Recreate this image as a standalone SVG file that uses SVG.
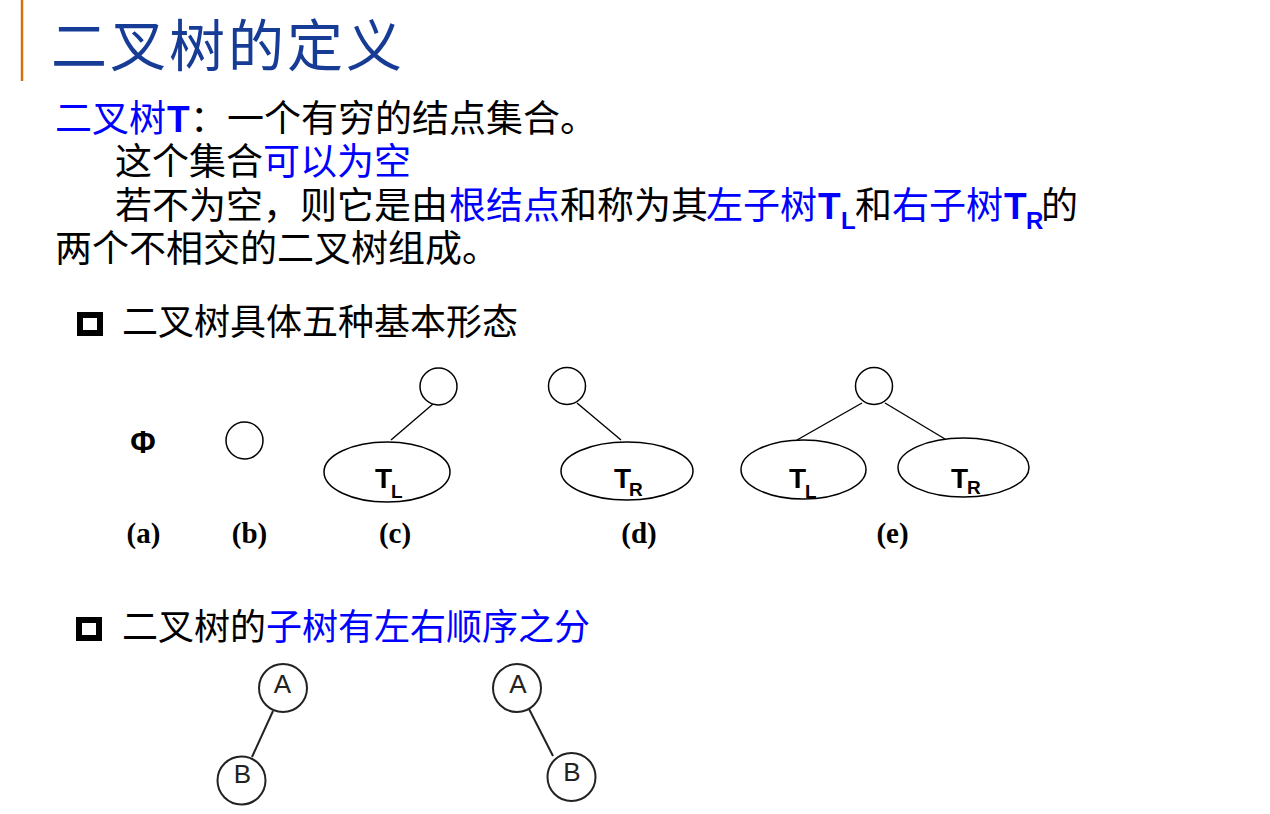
<svg xmlns="http://www.w3.org/2000/svg" width="1270" height="814" viewBox="0 0 1270 814">
<style>
.cjk{font-family:"Liberation Sans","Noto Sans CJK SC",sans-serif;}
.body{font-size:37px;fill:#000;}
.blue{fill:#0000ff;}
.bT{font-weight:bold;}
.title{font-family:"Noto Sans CJK SC",sans-serif;font-size:56px;fill:#173c96;letter-spacing:3px;}
.lbl{font-family:"Liberation Serif",serif;font-weight:bold;font-size:29px;fill:#000;text-anchor:middle;}
.tn{font-family:"Liberation Sans",sans-serif;font-weight:bold;fill:#000;}
.node{fill:#fff;stroke:#000;stroke-width:1.5;}
.edge{stroke:#000;stroke-width:1.4;fill:none;}
.gnode{fill:#fff;stroke:#222;stroke-width:2;}
.gedge{stroke:#222;stroke-width:2;fill:none;}
.glbl{font-family:"Liberation Sans",sans-serif;font-size:26px;fill:#222;text-anchor:middle;}
.bullet{fill:none;stroke:#000;stroke-width:6;}
</style>

<rect x="0" y="0" width="1270" height="814" fill="#fff"/>
<line x1="22" y1="0" x2="22" y2="81" stroke="#d4700f" stroke-width="2.5"/>
<text class="title" x="51" y="66">二叉树的定义</text>

<g id="definition" class="cjk body">
  <text y="132"><tspan x="55" class="blue">二叉树</tspan><tspan x="167" class="blue bT">T</tspan><tspan x="190">：一个有穷的结点集合。</tspan></text>
  <text y="175"><tspan x="115">这个集合</tspan><tspan x="263" class="blue">可以为空</tspan></text>
  <text y="219"><tspan x="115">若不为空，则它是由</tspan><tspan x="449" class="blue">根结点</tspan><tspan x="560">和称为其</tspan><tspan x="706" class="blue">左子树</tspan><tspan x="818" class="blue bT">T</tspan><tspan x="841" y="229" class="blue bT" font-size="24">L</tspan><tspan x="855" y="219">和</tspan><tspan x="892" class="blue">右子树</tspan><tspan x="1004" class="blue bT">T</tspan><tspan x="1026" y="229" class="blue bT" font-size="24">R</tspan><tspan x="1041" y="219">的</tspan></text>
  <text y="262"><tspan x="55">两个不相交的二叉树组成。</tspan></text>
</g>

<g id="bullet1">
  <rect class="bullet" x="80" y="315" width="20" height="18"/>
  <text class="cjk" font-size="36" x="122" y="335">二叉树具体五种基本形态</text>
</g>

<g id="connectors">
  <line class="edge" x1="432.7" y1="404.3" x2="391" y2="440"/>
  <line class="edge" x1="577" y1="403" x2="621" y2="440"/>
  <line class="edge" x1="862" y1="403" x2="797" y2="440"/>
  <line class="edge" x1="885" y1="403" x2="945" y2="439"/>
  <line class="gedge" x1="273" y1="711" x2="252" y2="757"/>
  <line class="gedge" x1="529" y1="709" x2="553" y2="756"/>
</g>

<g id="form-a">
  <text class="tn" font-size="31" x="143" y="453" text-anchor="middle">Φ</text>
  <text class="lbl" x="143.5" y="543">(a)</text>
</g>
<g id="form-b">
  <circle class="node" cx="244.5" cy="440.5" r="18.5"/>
  <text class="lbl" x="249.5" y="543">(b)</text>
</g>
<g id="form-c">
  <circle class="node" cx="438.5" cy="386.5" r="18.5"/>
  <ellipse class="node" cx="387" cy="472" rx="63" ry="30"/>
  <text class="tn" x="375" y="488"><tspan font-size="28">T</tspan><tspan x="391" y="498" font-size="19">L</tspan></text>
  <text class="lbl" x="395" y="543">(c)</text>
</g>
<g id="form-d">
  <circle class="node" cx="567" cy="386" r="18.5"/>
  <ellipse class="node" cx="627" cy="471" rx="66" ry="29"/>
  <text class="tn" x="614" y="488"><tspan font-size="28">T</tspan><tspan x="629" y="496" font-size="19">R</tspan></text>
  <text class="lbl" x="639" y="543">(d)</text>
</g>
<g id="form-e">
  <circle class="node" cx="874" cy="386" r="18.5"/>
  <ellipse class="node" cx="803.5" cy="469.5" rx="62.5" ry="29.5"/>
  <ellipse class="node" cx="963.5" cy="467.5" rx="65.5" ry="29.5"/>
  <text class="tn" x="789" y="488"><tspan font-size="28">T</tspan><tspan x="805" y="498" font-size="19">L</tspan></text>
  <text class="tn" x="951" y="488"><tspan font-size="28">T</tspan><tspan x="967" y="494" font-size="19">R</tspan></text>
  <text class="lbl" x="892.5" y="543">(e)</text>
</g>

<g id="bullet2">
  <rect class="bullet" x="79" y="620" width="20" height="18"/>
  <text class="cjk" font-size="36" x="122" y="640">二叉树的<tspan class="blue">子树有左右顺序之分</tspan></text>
</g>

<g id="left-A">
  <circle class="gnode" cx="283" cy="688" r="24"/>
  <text class="glbl" x="282.5" y="693">A</text>
</g>
<g id="left-B">
  <circle class="gnode" cx="241.5" cy="780.5" r="24"/>
  <text class="glbl" x="242.5" y="783">B</text>
</g>
<g id="right-A">
  <circle class="gnode" cx="517" cy="688" r="24"/>
  <text class="glbl" x="518" y="693">A</text>
</g>
<g id="right-B">
  <circle class="gnode" cx="571.5" cy="777" r="24"/>
  <text class="glbl" x="572" y="781">B</text>
</g>
</svg>
